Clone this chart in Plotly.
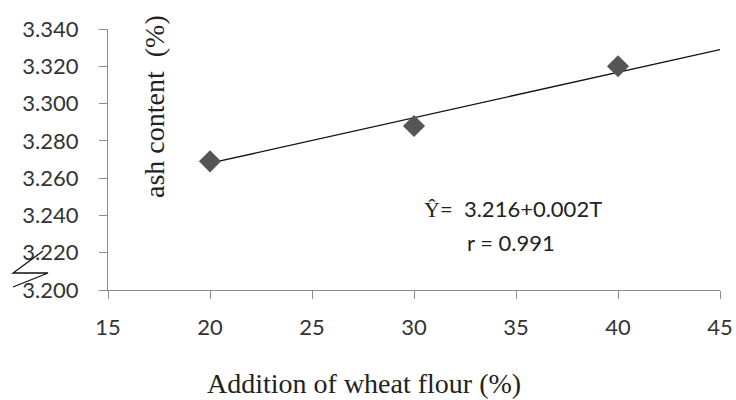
import plotly.graph_objects as go

# Data
wheat_flour = [20, 30, 40]
ash_content = [3.269, 3.288, 3.320]
trend_x = [20, 45]
trend_y = [3.268, 3.329]
x_ticks = [15, 20, 25, 30, 35, 40, 45]
y_ticks = [3.200, 3.220, 3.240, 3.260, 3.280, 3.300, 3.320, 3.340]
equation_text = "Ŷ=  3.216+0.002T"
r_text = "r = 0.991"

AXIS_COLOR = "#8c8c8c"
SANS = "Lato"
SERIF = "Liberation Serif"

fig = go.Figure()

fig.add_trace(go.Scatter(
    x=trend_x, y=trend_y, mode="lines",
    line=dict(color="#111111", width=1.3),
    showlegend=False, hoverinfo="skip",
))

fig.add_trace(go.Scatter(
    x=wheat_flour, y=ash_content, mode="markers",
    marker=dict(symbol="diamond", size=17, color="#555555", line=dict(width=0)),
    showlegend=False,
))

fig.update_xaxes(
    range=[15, 45], tickvals=x_ticks, ticktext=[str(v) for v in x_ticks],
    showline=True, linecolor=AXIS_COLOR, linewidth=1,
    ticks="outside", ticklen=8, tickcolor=AXIS_COLOR, tickwidth=1,
    showgrid=False, zeroline=False,
    tickfont=dict(family=SANS, size=22, color="#333333"),
    ticklabelstandoff=10,
)
fig.update_yaxes(
    range=[3.200, 3.340], tickvals=y_ticks, ticktext=[f"{v:.3f}" for v in y_ticks],
    showline=True, linecolor=AXIS_COLOR, linewidth=1,
    ticks="outside", ticklen=8, tickcolor=AXIS_COLOR, tickwidth=1,
    showgrid=False, zeroline=False,
    tickfont=dict(family=SANS, size=22, color="#333333"),
    ticklabelstandoff=16,
)

# Y-axis title placed inside the plot area, as in the reference
fig.add_annotation(
    text="ash content  (%)", xref="paper", yref="paper",
    x=(155 - 108) / 612, y=(290 - 107) / 261, textangle=-90,
    showarrow=False, font=dict(family=SERIF, size=28, color="#222222"),
    xanchor="center", yanchor="middle",
)
# X-axis title
fig.add_annotation(
    text="Addition of wheat flour (%)", xref="paper", yref="paper",
    x=(364 - 108) / 612, y=(290 - 383) / 261,
    showarrow=False, font=dict(family=SERIF, size=28, color="#222222"),
    xanchor="center", yanchor="middle",
)
# Equation and correlation
fig.add_annotation(
    text=f'<span style="font-family:{SERIF}">{equation_text[0]}</span>{equation_text[1:]}',
    xref="paper", yref="paper",
    x=(513 - 108) / 612, y=(290 - 208) / 261,
    showarrow=False, font=dict(family=SANS, size=22, color="#222222"),
    xanchor="center", yanchor="middle",
)
fig.add_annotation(
    text=r_text, xref="paper", yref="paper",
    x=(511 - 108) / 612, y=(290 - 242) / 261,
    showarrow=False, font=dict(family=SANS, size=22, color="#222222"),
    xanchor="center", yanchor="middle",
)

# Axis-break zigzag symbol
def px(xp):
    return (xp - 108) / 612

def py(yp):
    return (290 - yp) / 261

zig = [(43, 251), (13, 273), (48, 273), (13, 287)]
path = "M " + " L ".join(f"{px(a):.4f},{py(b):.4f}" for a, b in zig)
fig.add_shape(type="path", path=path, xref="paper", yref="paper",
              line=dict(color="#111111", width=1.3))

fig.update_layout(
    width=736, height=400,
    margin=dict(l=108, r=16, t=29, b=110, autoexpand=False),
    paper_bgcolor="white", plot_bgcolor="white",
)

fig.write_html(
    "out.html",
    config={"displayModeBar": False},
    post_script="document.body.style.margin='0';document.body.style.overflow='hidden';",
)
